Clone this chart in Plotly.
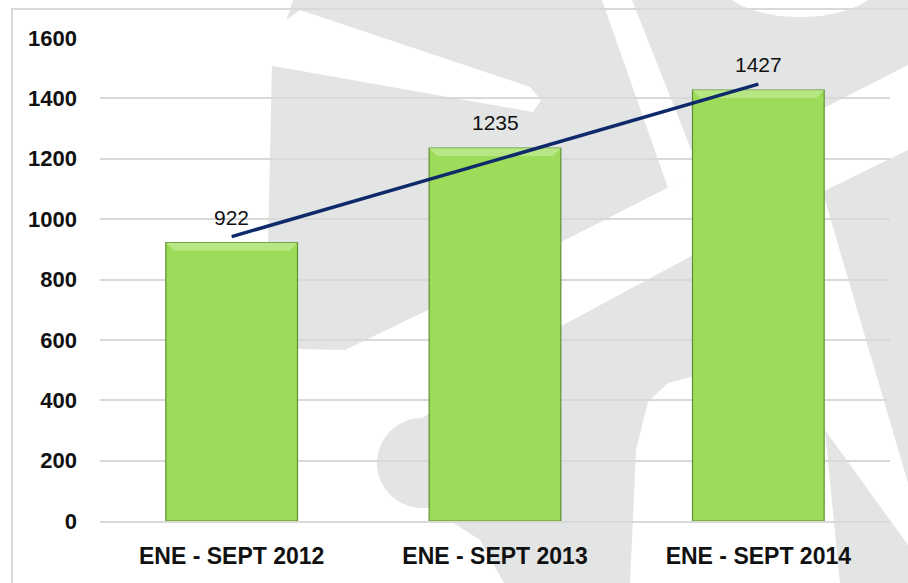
import numpy as np
import plotly.graph_objects as go

# ---------------- data ----------------
categories = ["ENE - SEPT 2012", "ENE - SEPT 2013", "ENE - SEPT 2014"]
values = [922, 1235, 1427]
y_tick_values = [0, 200, 400, 600, 800, 1000, 1200, 1400, 1600]

# ---------------- layout geometry ----------------
W, H = 908, 583
ML, MR, MT, MB = 100, 18, 38, 62
PW, PH = W - ML - MR, H - MT - MB

FONT = "Liberation Sans, Arial, sans-serif"
GREY = "#e3e4e4"


def px(x, y):
    return (x - ML) / PW, (H - MB - y) / PH


def path(pts):
    s = ""
    for i, (x, y) in enumerate(pts):
        a, b = px(x, y)
        s += ("M" if i == 0 else "L") + f"{a:.4f},{b:.4f} "
    return s + "Z"


def poly(pts, color):
    return dict(type="path", path=path(pts), xref="paper", yref="paper",
                fillcolor=color, line=dict(width=0), layer="below")


def ellipse(x0, y0, x1, y1, color):
    a0, b0 = px(x0, y1)
    a1, b1 = px(x1, y0)
    return dict(type="circle", x0=a0, y0=b0, x1=a1, y1=b1, xref="paper", yref="paper",
                fillcolor=color, line=dict(width=0), layer="below")


# decorative watermark (background logo)
shapes = [
    poly([(293, 0), (908, 0), (908, 65), (430, 309), (345, 350), (300, 349), (266, 340), (272, 63)], GREY),
    poly([(422, 418), (563, 325), (697, 253), (908, 150), (908, 583), (504, 583), (480, 540), (430, 508), (422, 508)], GREY),
    ellipse(377, 418, 467, 508, GREY),
    poly([(262, 38), (300, 10), (530, 87), (541, 100), (533, 112), (262, 64)], "white"),
    poly([(602, 0), (632, 0), (700, 172), (668, 188)], "white"),
    ellipse(715, -67, 885, 17, "white"),
    poly([(630, 583), (636, 450), (648, 402), (668, 383), (695, 376), (825, 200), (908, 483), (908, 583)], "white"),
    poly([(825, 430), (908, 545), (908, 583), (840, 583)], GREY),
    # frame
    dict(type="rect", xref="paper", yref="paper",
         x0=px(12, 0)[0], x1=px(930, 0)[0], y0=px(0, 600)[1], y1=px(0, 9)[1],
         line=dict(color="#d9d9d9", width=2), fillcolor="rgba(0,0,0,0)", layer="below"),
]

# ---------------- figure ----------------
idx = np.arange(len(values))
slope, intercept = np.polyfit(idx, values, 1)
trend = slope * idx + intercept

half = 0.25
bevel_h = 26
bevel_in = 0.03
bx, by = [], []
for i, v in zip(idx, values):
    bx += [i - half, i + half, i + half - bevel_in, i - half + bevel_in, i - half, None]
    by += [v, v, v - bevel_h, v - bevel_h, v, None]

fig = go.Figure()
fig.add_bar(x=idx, y=values, width=2 * half,
            marker=dict(color="#9ddb5a", line=dict(color="#5f9134", width=1.2)),
            hoverinfo="skip")
fig.add_scatter(x=bx, y=by, mode="lines", fill="toself", fillcolor="#b6e784",
                line=dict(width=0), hoverinfo="skip")
fig.add_scatter(x=[idx[0], idx[-1]], y=[trend[0], trend[-1]], mode="lines",
                line=dict(color="#0f2a6b", width=3.5), hoverinfo="skip")

annotations = [dict(x=i, y=v, text=str(v), showarrow=False, yanchor="bottom", yshift=12,
                    font=dict(family=FONT, size=21, color="#111111"))
               for i, v in zip(idx, values)]

fig.update_layout(
    width=W, height=H,
    margin=dict(l=ML, r=MR, t=MT, b=MB, autoexpand=False),
    paper_bgcolor="white",
    plot_bgcolor="rgba(0,0,0,0)",
    showlegend=False,
    shapes=shapes,
    annotations=annotations,
    xaxis=dict(range=[-0.5, 2.5], tickmode="array", tickvals=list(idx), ticktext=categories,
               showgrid=False, zeroline=False, showline=True, linecolor="#d9d9d9", linewidth=1.5,
               ticks="", ticklabelstandoff=14, automargin=False,
               tickfont=dict(family=FONT, size=23, color="#111111", weight="bold")),
    yaxis=dict(range=[0, 1600], tickmode="array", tickvals=y_tick_values,
               showgrid=True, gridcolor="#d9d9d9", gridwidth=1.5, zeroline=False,
               showline=False, ticks="", ticklabelstandoff=22, automargin=False,
               tickfont=dict(family=FONT, size=22, color="#111111", weight="bold")),
)

fig.write_html("out.html", config={"displayModeBar": False},
               post_script="document.body.style.margin='0px';")
